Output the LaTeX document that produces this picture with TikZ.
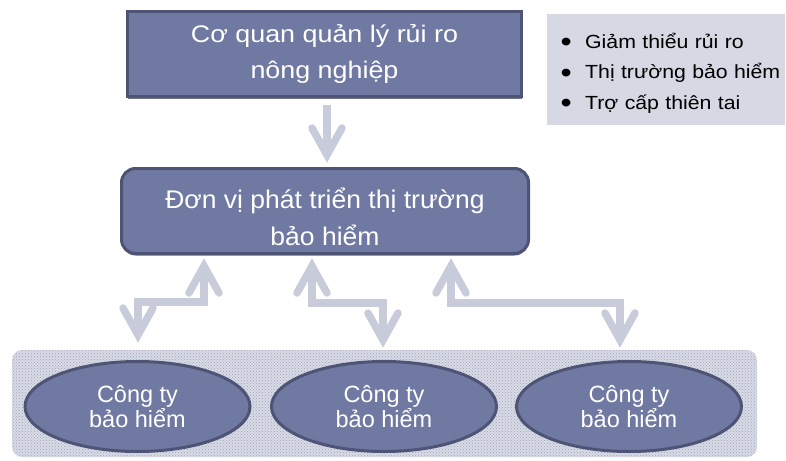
\documentclass[tikz,border=0pt]{standalone}
\usepackage{fontspec}
\setmainfont{Liberation Sans}
\newfontfamily\wideA[FakeStretch=1.12]{Liberation Sans}
\newfontfamily\wideB[FakeStretch=1.04]{Liberation Sans}
\usetikzlibrary{patterns,calc,shapes.geometric,shadows}
\definecolor{boxfill}{HTML}{6F79A1}
\definecolor{boxline}{HTML}{4D5475}
\definecolor{arrowc}{HTML}{C8CBDA}
\definecolor{notefill}{HTML}{D6D8E3}
\definecolor{patbg}{HTML}{D9DBE5}
\definecolor{patfg}{HTML}{9CA1BC}
\newcommand\bitem{\hspace*{13.4pt}\raisebox{-3.6pt}{\scalebox{1.5}{\textbullet}}\hspace{13.4pt}}
\newcommand\headdown[1]{\draw[headst] ($(#1)+(-15,-27)$) -- (#1) -- ($(#1)+(15,-27)$);}
\newcommand\headup[1]{\draw[headst] ($(#1)+(-15,27)$) -- (#1) -- ($(#1)+(15,27)$);}
\tikzset{
  box/.style={draw=boxline, line width=3pt, fill=boxfill, text=white, align=center, inner sep=0pt,
    drop shadow={shadow xshift=0pt, shadow yshift=-2pt, fill=boxline!70!black, opacity=0.7}},
  topbox/.style={box, minimum width=394pt, minimum height=85pt, font=\wideA\fontsize{24}{36}\selectfont},
  midbox/.style={box, rounded corners=14pt, minimum width=407pt, minimum height=85pt, font=\wideB\fontsize{25.5}{37}\selectfont},
  comp/.style={ellipse, draw=boxline, line width=3pt, fill=boxfill, text=white, align=center, inner sep=0pt,
    minimum width=225pt, minimum height=90pt, font=\fontsize{23.5}{25}\selectfont},
  notebox/.style={fill=notefill, inner sep=0pt, text width=238pt, minimum height=111pt,
    align=left, font=\wideA\fontsize{19}{30.5}\selectfont},
  conn/.style={draw=arrowc, line width=7.5pt, line join=miter},
  headst/.style={draw=arrowc, line width=7.5pt, line cap=round, line join=miter, miter limit=10},
}
\begin{document}
\begin{tikzpicture}[x=1pt,y=-1pt]
\useasboundingbox (0,0) rectangle (786,460);
% background band of the companies
\path[fill=patbg, rounded corners=10pt] (12,350) rectangle (757,457);
\path[pattern=crosshatch dots, pattern color=patfg, rounded corners=10pt] (12,350) rectangle (757,457);

\node[topbox] (top) at (324.5,54) {Cơ quan quản lý rủi ro\\nông nghiệp};
\node[midbox] (mid) at (325,211) {\rule{0pt}{32pt}Đơn vị phát triển thị trường\\bảo hiểm};
\node[notebox, anchor=north west] (note) at (547,14) {\rule{0pt}{22pt}\bitem Giảm thiểu rủi ro\\\bitem Thị trường bảo hiểm\\\bitem Trợ cấp thiên tai};

\node[comp] (e1) at (137.5,406.5) {Công ty\\bảo hiểm};
\node[comp] (e2) at (384,406.5) {Công ty\\bảo hiểm};
\node[comp] (e3) at (629,406.5) {Công ty\\bảo hiểm};

% connector coordinates
\coordinate (t0a) at ($(top.south)+(2.5,7)$);
\coordinate (t0b) at ($(mid.north)+(2,-12)$);
\coordinate (t1a) at ($(e1.north)+(0.5,-25)$);
\coordinate (t1b) at ($(mid.south)+(-121,11)$);
\coordinate (t2a) at ($(mid.south)+(-13,11)$);
\coordinate (t2b) at ($(e2.north)+(-1,-20)$);
\coordinate (t3a) at ($(mid.south)+(126,11)$);
\coordinate (t3b) at ($(e3.north)+(-9,-20)$);

\draw[conn] (t0a) -- (t0b);
\headdown{t0b}

\draw[conn] (t1a) -- ++(0,-33) -| (t1b);
\headdown{t1a}
\headup{t1b}

\draw[conn] (t2a) |- ($(t2b)+(0,-37)$) -- (t2b);
\headup{t2a}
\headdown{t2b}

\draw[conn] (t3a) |- ($(t3b)+(0,-37)$) -- (t3b);
\headup{t3a}
\headdown{t3b}
\end{tikzpicture}
\end{document}
